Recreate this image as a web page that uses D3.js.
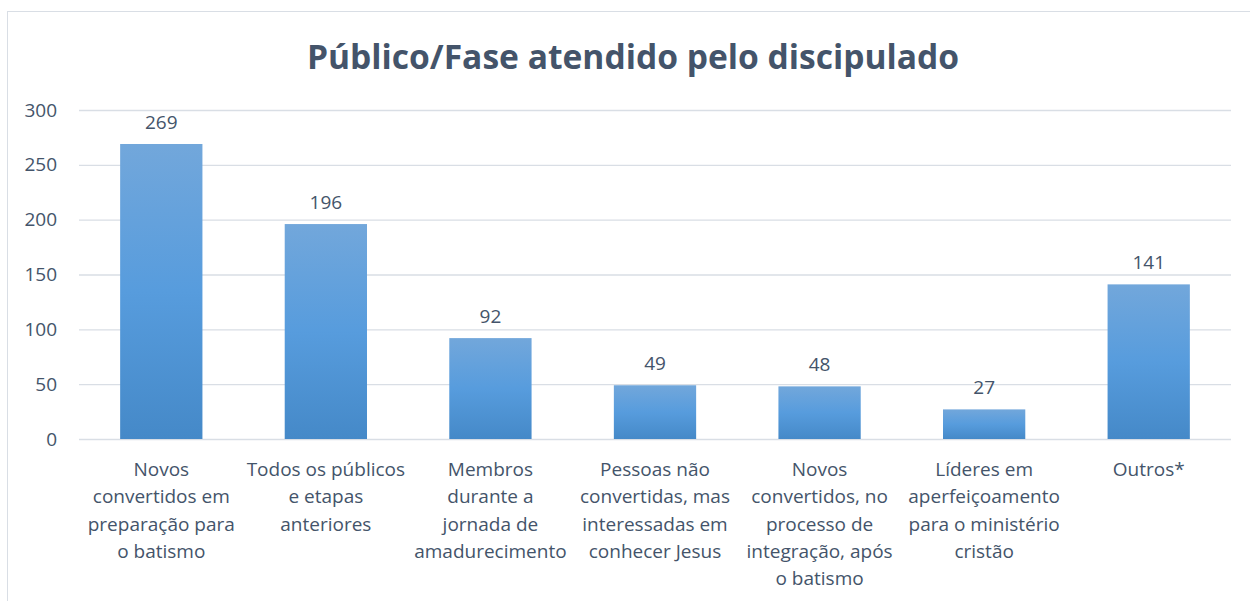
<!DOCTYPE html>
<html>
<head>
<meta charset="utf-8">
<script src="https://cdn.jsdelivr.net/npm/d3@7"></script>
<style>
  body { margin: 0; background: #fff; }
  text { font-family: "Open Sans", sans-serif; fill: #44546A; }
</style>
</head>
<body>
<svg></svg>
<script>
const categories = [
  ["Novos", "convertidos em", "preparação para", "o batismo"],
  ["Todos os públicos", "e etapas", "anteriores"],
  ["Membros", "durante a", "jornada de", "amadurecimento"],
  ["Pessoas não", "convertidas, mas", "interessadas em", "conhecer Jesus"],
  ["Novos", "convertidos, no", "processo de", "integração, após", "o batismo"],
  ["Líderes em", "aperfeiçoamento", "para o ministério", "cristão"],
  ["Outros*"]
];
const values = [269, 196, 92, 49, 48, 27, 141];
const yTicks = [0, 50, 100, 150, 200, 250, 300];

const width = 1250;
const height = 601;
const margin = { top: 110, right: 19, bottom: 162, left: 79 };

const svg = d3.select("svg").attr("width", width).attr("height", height);

const defs = svg.append("defs");
const grad = defs.append("linearGradient")
  .attr("id", "barGrad").attr("x1", 0).attr("y1", 0).attr("x2", 0).attr("y2", 1);
grad.append("stop").attr("offset", "0%").attr("stop-color", "#72A7DB");
grad.append("stop").attr("offset", "50%").attr("stop-color", "#579CDD");
grad.append("stop").attr("offset", "100%").attr("stop-color", "#4589C8");

// chart frame
svg.append("rect")
  .attr("x", 7.5).attr("y", 11.5)
  .attr("width", 1260).attr("height", 620)
  .attr("fill", "none").attr("stroke", "#D9DEE5");

svg.append("text")
  .attr("x", 633).attr("y", 69)
  .attr("text-anchor", "middle")
  .style("font-size", "33.6px").style("font-weight", "bold")
  .text("Público/Fase atendido pelo discipulado");

const x = d3.scaleBand()
  .domain(d3.range(values.length))
  .range([margin.left, width - margin.right])
  .paddingInner(0.5).paddingOuter(0.25);

const y = d3.scaleLinear()
  .domain([0, 300])
  .range([height - margin.bottom, margin.top]);

// gridlines + y labels
const yAxis = svg.append("g")
  .attr("transform", `translate(${margin.left},0)`)
  .call(d3.axisLeft(y).tickValues(yTicks)
    .tickSize(-(width - margin.left - margin.right)).tickPadding(22));
yAxis.select(".domain").remove();
yAxis.selectAll("line").attr("stroke", "#D9DEE5").attr("stroke-width", 1.3);
yAxis.selectAll("text").style("font-size", "19px").attr("fill", "#44546A");

svg.selectAll(".bar")
  .data(values)
  .enter()
  .append("rect")
  .attr("class", "bar")
  .attr("x", (d, i) => x(i))
  .attr("y", (d) => y(d))
  .attr("width", x.bandwidth())
  .attr("height", (d) => y(0) - y(d))
  .attr("fill", "url(#barGrad)");

svg.selectAll(".val")
  .data(values)
  .enter()
  .append("text")
  .attr("class", "val")
  .attr("x", (d, i) => x(i) + x.bandwidth() / 2)
  .attr("y", (d) => y(d) - 15)
  .attr("text-anchor", "middle")
  .style("font-size", "19px")
  .text((d) => d);

const catG = svg.selectAll(".cat")
  .data(categories)
  .enter()
  .append("text")
  .attr("class", "cat")
  .attr("text-anchor", "middle")
  .style("font-size", "19px");

catG.selectAll("tspan")
  .data((d, i) => d.map((line) => ({ line, i })))
  .enter()
  .append("tspan")
  .attr("x", (d) => x(d.i) + x.bandwidth() / 2)
  .attr("y", (d, j) => 476 + j * 27.3)
  .text((d) => d.line);
</script>
</body>
</html>
